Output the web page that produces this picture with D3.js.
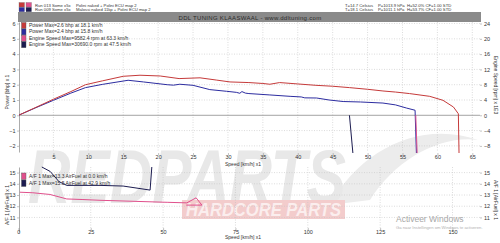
<!DOCTYPE html>
<html>
<head>
<meta charset="utf-8">
<title>DDL Tuning dyno run</title>
<script src="https://cdn.jsdelivr.net/npm/d3@7/dist/d3.min.js"></script>
<style>
  body { margin: 0; background: #fff; }
  svg { display: block; font-family: "Liberation Sans", Arial, sans-serif; }
</style>
</head>
<body>
<svg width="500" height="243"></svg>
<script>

// ---- data ----
var speedTicks = [5, 10, 15, 20, 25, 30, 35, 40, 45, 50, 55, 60, 65];
var powerTicks = [-2, -1, 0, 1, 2, 3, 4, 5, 6];
var rpmTicks = [-8, -4, 0, 4, 8, 12, 16, 20, 24];
var afrTicks = [11, 12, 13, 14, 15];
var afrSpeedTicks = [0, 25, 50, 75, 100, 125, 150];

// [speed km/h, bhp]
var power013 = [[0,0],[2.5,0.52],[5,1.05],[7.5,1.55],[9.6,2.0],[12,2.25],[15,2.55],[17.4,2.62],[20.3,2.57],
  [23,2.4],[26,2.45],[28.4,2.3],[30.3,2.18],[33,2.14],[35,2.08],[36,2.03],[37.4,2.14],[40,2.05],[42.6,1.96],
  [45,1.9],[47.4,1.81],[50,1.7],[52.2,1.59],[54,1.52],[56,1.42],[58.9,1.24],[60.8,0.98],[62.3,0.54],[63,0.1],[63.1,-2.6]];
var power009 = [[0,0],[2.5,0.5],[5,0.98],[7.5,1.45],[9.6,1.81],[12,2.02],[15.7,2.29],[17.9,2.18],[21.3,2.0],
  [22.2,1.97],[23.1,2.03],[25,1.96],[27.4,1.68],[29.8,1.57],[31.2,1.5],[31.7,1.44],[32,1.55],[32.5,1.45],[33,1.42],
  [36,1.33],[38.9,1.24],[40.5,1.2],[41,1.14],[42.7,1.13],[44.5,1.0],[46.5,0.9],[49,0.87],[52.2,0.8],[54,0.68],
  [55.6,0.47],[56.8,0.33],[57.0,-2.6]];
// [speed km/h, rpm x1000]
var rpm013 = [[56.9,0],[57.1,-10]];
var rpm009 = [[47.4,0],[47.9,-10]];
// [speed, A/F]
var afr013 = [[0.5,13.25],[5,13.2],[10.9,13.05],[16.7,12.65],[22,12.6],[28.2,12.53],[39.6,12.44],[51.4,12.35],
  [58.2,12.3],[61.4,12.75],[63.4,12.1],[58,12.1]];
var afr009 = [[8.1,15.5],[11,15.1],[14,14.2],[16.7,13.86],[28.2,13.86],[36.2,13.8],[45.5,13.44],[46.1,15.5]];

var runNames = ["Run 013 Some x5x", "Run 009 Some x5x"];
var runSetups = ["Polini naked + Polini ECU map 2", "Malossi naked 11kp + Polini ECU map 2"];
var runTemps = ["T=14.7 Celsius", "T=18.1 Celsius"];
var runPress = ["P=1013.9 hPa", "P=1011.1 hPa"];
var runHum = ["H=52.0% CF=1.00 STD", "H=53.7% CF=1.00 STD"];
var legendTop = ["Power  Max=2.6 bhp at 18.1 km/h", "Power  Max=2.4 bhp at 15.8 km/h",
  "Engine Speed  Max=9582.4 rpm at 63.3 km/h", "Engine Speed  Max=30690.0 rpm at 47.5 km/h"];
var legendBottom = ["A/F 1  Max=13.3 AirFuel at 0.0 km/h", "A/F 1  Max=15.5 AirFuel at 42.9 km/h"];

var cRed = "#c53a3a", cBlue = "#2c2ca0", cPink = "#e0508c", cNavy = "#1c1c50";

var svg = d3.select("svg");
var fmt = d3.format("d");

// ---- watermark ----
var wm = svg.append("g").attr("class", "watermark");
wm.append("path")
    .attr("d", "M330,205 C360,150 420,120 478,140 C440,135 395,160 370,200 Z")
    .attr("fill", "#ececec");
wm.append("text")
    .attr("x", 28).attr("y", 203)
    .attr("textLength", 318).attr("lengthAdjust", "spacingAndGlyphs")
    .attr("font-size", 76).attr("font-weight", "bold").attr("font-style", "italic")
    .attr("fill", "#e8e8e8")
    .text("REDPARTS");
wm.append("rect").attr("x", 182).attr("y", 200).attr("width", 163).attr("height", 19).attr("fill", "#f3cccc");
wm.append("text")
    .attr("x", 186).attr("y", 216)
    .attr("textLength", 155).attr("lengthAdjust", "spacingAndGlyphs")
    .attr("font-size", 18).attr("font-weight", "bold").attr("font-style", "italic")
    .attr("fill", "#fbeeee")
    .text("HARDCORE PARTS");

// ---- scales ----
var x = d3.scaleLinear().domain([0, 66.1]).range([18.5, 480]);
var y = d3.scaleLinear().domain([-2.4, 6.1]).range([152, 22]);
var yR = d3.scaleLinear().domain([-9.6, 24.4]).range([152, 22]);
var xb = d3.scaleLinear().domain([0, 159.5]).range([18.4, 480]);
var yb = d3.scaleLinear().domain([9.7, 15.5]).range([232, 167]);

svg.append("clipPath").attr("id", "clipTop")
  .append("rect").attr("x", 19).attr("y", 22).attr("width", 461).attr("height", 131);
svg.append("clipPath").attr("id", "clipBot")
  .append("rect").attr("x", 19).attr("y", 166).attr("width", 461).attr("height", 66);

function grid(g, xs, xt, ys, yt, y0, y1, x0, x1) {
  g.selectAll(".gx").data(xt).enter().append("line")
      .attr("x1", function(d) { return xs(d); }).attr("x2", function(d) { return xs(d); })
      .attr("y1", y0).attr("y2", y1)
      .attr("stroke", "#c4c4c4").attr("stroke-width", 0.6).attr("stroke-dasharray", "1,1.5");
  g.selectAll(".gy").data(yt).enter().append("line")
      .attr("y1", function(d) { return ys(d); }).attr("y2", function(d) { return ys(d); })
      .attr("x1", x0).attr("x2", x1)
      .attr("stroke", "#c4c4c4").attr("stroke-width", 0.6).attr("stroke-dasharray", "1,1.5");
}

function styleAxis(g) {
  g.selectAll("text").attr("font-size", 5.5).attr("fill", "#333");
  g.selectAll("line").attr("stroke", "#888").attr("stroke-width", 0.5);
  g.select(".domain").attr("stroke", "#888").attr("stroke-width", 0.7);
}

// ---- top chart ----
var topG = svg.append("g");
grid(topG, x, speedTicks, y, powerTicks.filter(function(d) { return d !== 0; }), 22, 152, 19, 480);
topG.append("line")
    .attr("x1", 19).attr("x2", 480).attr("y1", y(0)).attr("y2", y(0))
    .attr("stroke", "#8c8c8c").attr("stroke-width", 0.8);

var axL = topG.append("g").attr("transform", "translate(19,0)")
    .call(d3.axisLeft(y).tickValues(powerTicks).tickFormat(fmt).tickSize(2).tickPadding(1.5).tickSizeOuter(0));
styleAxis(axL);
var axR = topG.append("g").attr("transform", "translate(480,0)")
    .call(d3.axisRight(yR).tickValues(rpmTicks).tickFormat(fmt).tickSize(2).tickPadding(2).tickSizeOuter(0));
styleAxis(axR);
axR.select(".domain").remove();
var axB = topG.append("g").attr("transform", "translate(0,153)")
    .call(d3.axisBottom(x).tickValues(speedTicks).tickFormat(fmt).tickSize(2).tickPadding(0.5).tickSizeOuter(0));
styleAxis(axB);
axB.select(".domain").remove();

topG.append("text").attr("x", 225).attr("y", 166).attr("font-size", 5).attr("fill", "#333").text("Speed [km/h]  x1");
topG.append("text").attr("transform", "translate(9,92) rotate(-90)").attr("text-anchor", "middle")
    .attr("font-size", 5).attr("fill", "#333").text("Power [bhp] x 1");
topG.append("text").attr("transform", "translate(494,85) rotate(90)").attr("text-anchor", "middle")
    .attr("font-size", 5).attr("fill", "#333").text("Engine Speed [rpm] x 1E3");

var line = d3.line().x(function(d) { return x(d[0]); }).y(function(d) { return y(d[1]); });
var lineR = d3.line().x(function(d) { return x(d[0]); }).y(function(d) { return yR(d[1]); });
var topLines = topG.append("g").attr("clip-path", "url(#clipTop)").attr("fill", "none").attr("stroke-width", 1);
topLines.append("path").datum(power009).attr("stroke", cBlue).attr("d", line);
topLines.append("path").datum(power013).attr("stroke", cRed).attr("d", line);
topLines.append("path").datum(rpm013).attr("stroke", cPink).attr("d", lineR);
topLines.append("path").datum(rpm009).attr("stroke", cNavy).attr("d", lineR);

var legColors = [cRed, cBlue, cPink, cNavy];
var leg = topG.append("g");
leg.selectAll("rect").data(legendTop).enter().append("rect")
    .attr("x", 21.5).attr("y", function(d, i) { return 22.5 + i * 6.4; })
    .attr("width", 4.5).attr("height", 6)
    .attr("fill", function(d, i) { return legColors[i]; })
    .attr("stroke", "#555").attr("stroke-width", 0.4);
leg.selectAll("text").data(legendTop).enter().append("text")
    .attr("x", 29).attr("y", function(d, i) { return 27 + i * 6.4; })
    .attr("font-size", 5).attr("fill", "#333").text(function(d) { return d; });

// ---- bottom chart ----
var bot = svg.append("g");
grid(bot, xb, afrSpeedTicks.slice(1), yb, afrTicks, 167, 232, 19, 480);
var bL = bot.append("g").attr("transform", "translate(19,0)")
    .call(d3.axisLeft(yb).tickValues(afrTicks).tickFormat(fmt).tickSize(2).tickPadding(1.5).tickSizeOuter(0));
styleAxis(bL);
var bR = bot.append("g").attr("transform", "translate(480,0)")
    .call(d3.axisRight(yb).tickValues(afrTicks).tickFormat(fmt).tickSize(2).tickPadding(2).tickSizeOuter(0));
styleAxis(bR);
bR.select(".domain").remove();
var bB = bot.append("g").attr("transform", "translate(0,228)")
    .call(d3.axisBottom(xb).tickValues(afrSpeedTicks).tickFormat(fmt).tickSize(2).tickPadding(0.5).tickSizeOuter(0));
styleAxis(bB);
bB.select(".domain").remove();

bot.append("text").attr("x", 225).attr("y", 239).attr("font-size", 5).attr("fill", "#333").text("Speed [km/h]  x1");
bot.append("text").attr("transform", "translate(9,205) rotate(-90)").attr("text-anchor", "middle")
    .attr("font-size", 5).attr("fill", "#333").text("A/F 1 [AirFuel] x 1");
bot.append("text").attr("transform", "translate(494,200) rotate(90)").attr("text-anchor", "middle")
    .attr("font-size", 5).attr("fill", "#333").text("A/F 1 [AirFuel] x 1");

var lineB = d3.line().x(function(d) { return xb(d[0]); }).y(function(d) { return yb(d[1]); });
var botLines = bot.append("g").attr("clip-path", "url(#clipBot)").attr("fill", "none").attr("stroke-width", 1);
botLines.append("path").datum(afr013).attr("stroke", cPink).attr("d", lineB);
botLines.append("path").datum(afr009).attr("stroke", cNavy).attr("d", lineB);

var legB = bot.append("g");
legB.selectAll("rect").data(legendBottom).enter().append("rect")
    .attr("x", 21.5).attr("y", function(d, i) { return 173 + i * 7; })
    .attr("width", 4.5).attr("height", 6.5)
    .attr("fill", function(d, i) { return [cPink, cNavy][i]; })
    .attr("stroke", "#555").attr("stroke-width", 0.4);
legB.selectAll("text").data(legendBottom).enter().append("text")
    .attr("x", 29).attr("y", function(d, i) { return 178 + i * 7; })
    .attr("font-size", 5).attr("fill", "#333").text(function(d) { return d; });

// ---- header ----
var head = svg.append("g");
[[cRed, cBlue], [cPink, cNavy]].forEach(function(col, c) {
  col.forEach(function(color, r) {
    head.append("rect").attr("x", 19 + c * 7).attr("y", 2.5 + r * 4.8)
        .attr("width", 5.5).attr("height", 4.5).attr("fill", color)
        .attr("stroke", "#666").attr("stroke-width", 0.3);
  });
});
runNames.forEach(function(name, i) {
  var yy = 6.5 + i * 4.8;
  head.append("text").attr("x", 35).attr("y", yy).attr("font-size", 4.2).attr("fill", "#333").text(name);
  head.append("text").attr("x", 76).attr("y", yy).attr("font-size", 4.2).attr("fill", "#333").text(runSetups[i]);
  head.append("text").attr("x", 345).attr("y", yy).attr("font-size", 4.2).attr("fill", "#333").text(runTemps[i]);
  head.append("text").attr("x", 378).attr("y", yy).attr("font-size", 4.2).attr("fill", "#333").text(runPress[i]);
  head.append("text").attr("x", 407).attr("y", yy).attr("font-size", 4.2).attr("fill", "#333").text(runHum[i]);
});
head.append("rect").attr("x", 18).attr("y", 12).attr("width", 463).attr("height", 10).attr("fill", "#8a8a8a");
head.append("text").attr("x", 250).attr("y", 19.5).attr("text-anchor", "middle")
    .attr("font-size", 6).attr("fill", "#2a2a2a").attr("letter-spacing", 0.3)
    .text("DDL TUNING KLAASWAAL - www.ddltuning.com");

// ---- windows activation overlay ----
svg.append("text").attr("x", 396).attr("y", 222).attr("font-size", 8.5).attr("fill", "#a8a8a8")
    .text("Activeer Windows");
svg.append("text").attr("x", 396).attr("y", 228.5).attr("font-size", 4.2).attr("fill", "#b0b0b0")
    .text("Ga naar Instellingen om Windows te activeren.");

</script>
</body>
</html>
